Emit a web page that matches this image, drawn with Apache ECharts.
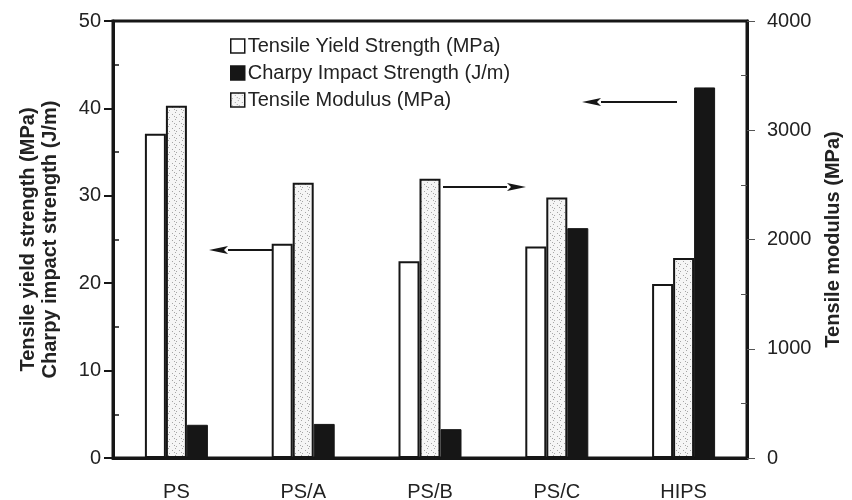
<!DOCTYPE html>
<html>
<head>
<meta charset="utf-8">
<script src="https://cdn.jsdelivr.net/npm/echarts@6/dist/echarts.min.js"></script>
<style>
  html, body { margin: 0; padding: 0; background: #fff; }
  #chart { width: 852px; height: 500px; }
</style>
</head>
<body>
<div id="chart"></div>
<script>
// Sample blends
const categories = ['PS', 'PS/A', 'PS/B', 'PS/C', 'HIPS'];
// Tensile yield strength (MPa), left axis
const yieldStrength = [37.1, 24.5, 22.5, 24.2, 19.9];
// Charpy impact strength (J/m), left axis
const impactStrength = [3.8, 3.9, 3.3, 26.3, 42.4];
// Tensile modulus (MPa), right axis
const tensileModulus = [3225, 2520, 2555, 2385, 1830];

const leftTicks = [0, 10, 20, 30, 40, 50];
const rightTicks = [0, 1000, 2000, 3000, 4000];

const FONT = '"Liberation Sans", Arial, Helvetica, sans-serif';
const INK = '#161616';

// Light speckled fill used for the modulus bars
function speckle() {
  const c = document.createElement('canvas');
  c.width = 7; c.height = 7;
  const g = c.getContext('2d');
  g.fillStyle = '#f5f5f5';
  g.fillRect(0, 0, 7, 7);
  g.fillStyle = '#a6a6a6';
  [[0, 0], [4, 2], [1, 5], [6, 4]].forEach(p => g.fillRect(p[0], p[1], 1, 1));
  return { image: c, repeat: 'repeat' };
}
const dotted = speckle();

// Arrow pointing from (x1,y) to (x2,y)
function arrow(x1, x2, y) {
  const dir = x2 < x1 ? 1 : -1;
  const head = 19, half = 4;
  return [
    { type: 'line', shape: { x1: x1, y1: y, x2: x2 + dir * head, y2: y },
      style: { stroke: INK, lineWidth: 2 }, z: 100 },
    { type: 'polygon', shape: { points: [[x2, y], [x2 + dir * head, y - half], [x2 + dir * (head - 4), y], [x2 + dir * head, y + half]] },
      style: { fill: INK }, z: 100 }
  ];
}

const chart = echarts.init(document.getElementById('chart'), null, { renderer: 'canvas' });

const option = {
  backgroundColor: '#fff',
  animation: false,
  textStyle: { fontFamily: FONT },
  grid: {
    left: 113, right: 105, top: 21, bottom: 42,
    outerBoundsMode: 'none',
    show: true, borderColor: INK, borderWidth: 3, backgroundColor: 'transparent'
  },
  legend: {
    orient: 'vertical',
    left: 225, top: 31,
    icon: 'rect',
    itemWidth: 14, itemHeight: 14, itemGap: 7,
    textStyle: { fontSize: 20, color: '#222', fontFamily: FONT, padding: [0, 0, 0, -2] },
    data: [
      { name: 'Tensile Yield Strength (MPa)', itemStyle: { color: '#fff', borderColor: INK, borderWidth: 1.5 } },
      { name: 'Charpy Impact Strength (J/m)', itemStyle: { color: INK, borderColor: INK, borderWidth: 1.5 } },
      { name: 'Tensile Modulus (MPa)', itemStyle: { color: dotted, borderColor: INK, borderWidth: 1.5 } }
    ]
  },
  xAxis: {
    type: 'category',
    data: categories,
    axisLine: { lineStyle: { color: INK, width: 3 } },
    axisTick: { show: false },
    axisLabel: { fontSize: 20, color: '#222', margin: 24, fontFamily: FONT }
  },
  yAxis: [
    {
      type: 'value', position: 'left', min: 0, max: 50, interval: 10,
      name: 'Tensile yield strength (MPa)\nCharpy impact strength (J/m)',
      nameLocation: 'middle', nameRotate: 90, nameGap: 52,
      nameTextStyle: { fontSize: 20, fontWeight: 'bold', color: '#222', lineHeight: 22, fontFamily: FONT },
      axisLine: { show: true, lineStyle: { color: INK, width: 3 } },
      axisTick: { show: true, length: 9, lineStyle: { color: INK, width: 2 } },
      axisLabel: { fontSize: 20, color: '#222', margin: 12, fontFamily: FONT,
        customValues: leftTicks, formatter: v => String(v) },
      splitLine: { show: false }
    },
    {
      type: 'value', position: 'right', min: 0, max: 4000, interval: 1000,
      name: 'Tensile modulus (MPa)',
      nameLocation: 'middle', nameRotate: 90, nameGap: 76,
      nameTextStyle: { fontSize: 20, fontWeight: 'bold', color: '#222', fontFamily: FONT },
      axisLine: { show: true, lineStyle: { color: INK, width: 3 } },
      axisTick: { show: true, length: 8, lineStyle: { color: '#555', width: 1 } },
      axisLabel: { fontSize: 20, color: '#222', margin: 20, fontFamily: FONT,
        customValues: rightTicks, formatter: v => String(v) },
      splitLine: { show: false }
    },
    {
      // minor ticks on the left scale
      type: 'value', position: 'left', min: 0, max: 50,
      axisLine: { show: false },
      axisLabel: { show: false },
      axisTick: { show: true, inside: true, length: 6, customValues: [5, 15, 25, 35, 45],
        lineStyle: { color: INK, width: 1.5 } },
      splitLine: { show: false }
    },
    {
      // minor ticks on the right scale
      type: 'value', position: 'right', min: 0, max: 4000,
      axisLine: { show: false },
      axisLabel: { show: false },
      axisTick: { show: true, inside: true, length: 6, customValues: [500, 1500, 2500, 3500],
        lineStyle: { color: '#555', width: 1 } },
      splitLine: { show: false }
    }
  ],
  series: [
    {
      name: 'Tensile Yield Strength (MPa)', type: 'bar', yAxisIndex: 0,
      data: yieldStrength, barWidth: 21, barGap: '0%',
      itemStyle: { color: '#fff', borderColor: INK, borderWidth: 2 }
    },
    {
      name: 'Tensile Modulus (MPa)', type: 'bar', yAxisIndex: 1,
      data: tensileModulus, barWidth: 21, barGap: '0%',
      itemStyle: { color: dotted, borderColor: INK, borderWidth: 2 }
    },
    {
      name: 'Charpy Impact Strength (J/m)', type: 'bar', yAxisIndex: 0,
      data: impactStrength, barWidth: 21, barGap: '0%',
      itemStyle: { color: INK, borderColor: INK, borderWidth: 1 }
    }
  ],
  graphic: [].concat(
    arrow(272, 209, 250),
    arrow(443, 526, 187),
    arrow(677, 582, 102)
  )
};

chart.setOption(option);
</script>
</body>
</html>
